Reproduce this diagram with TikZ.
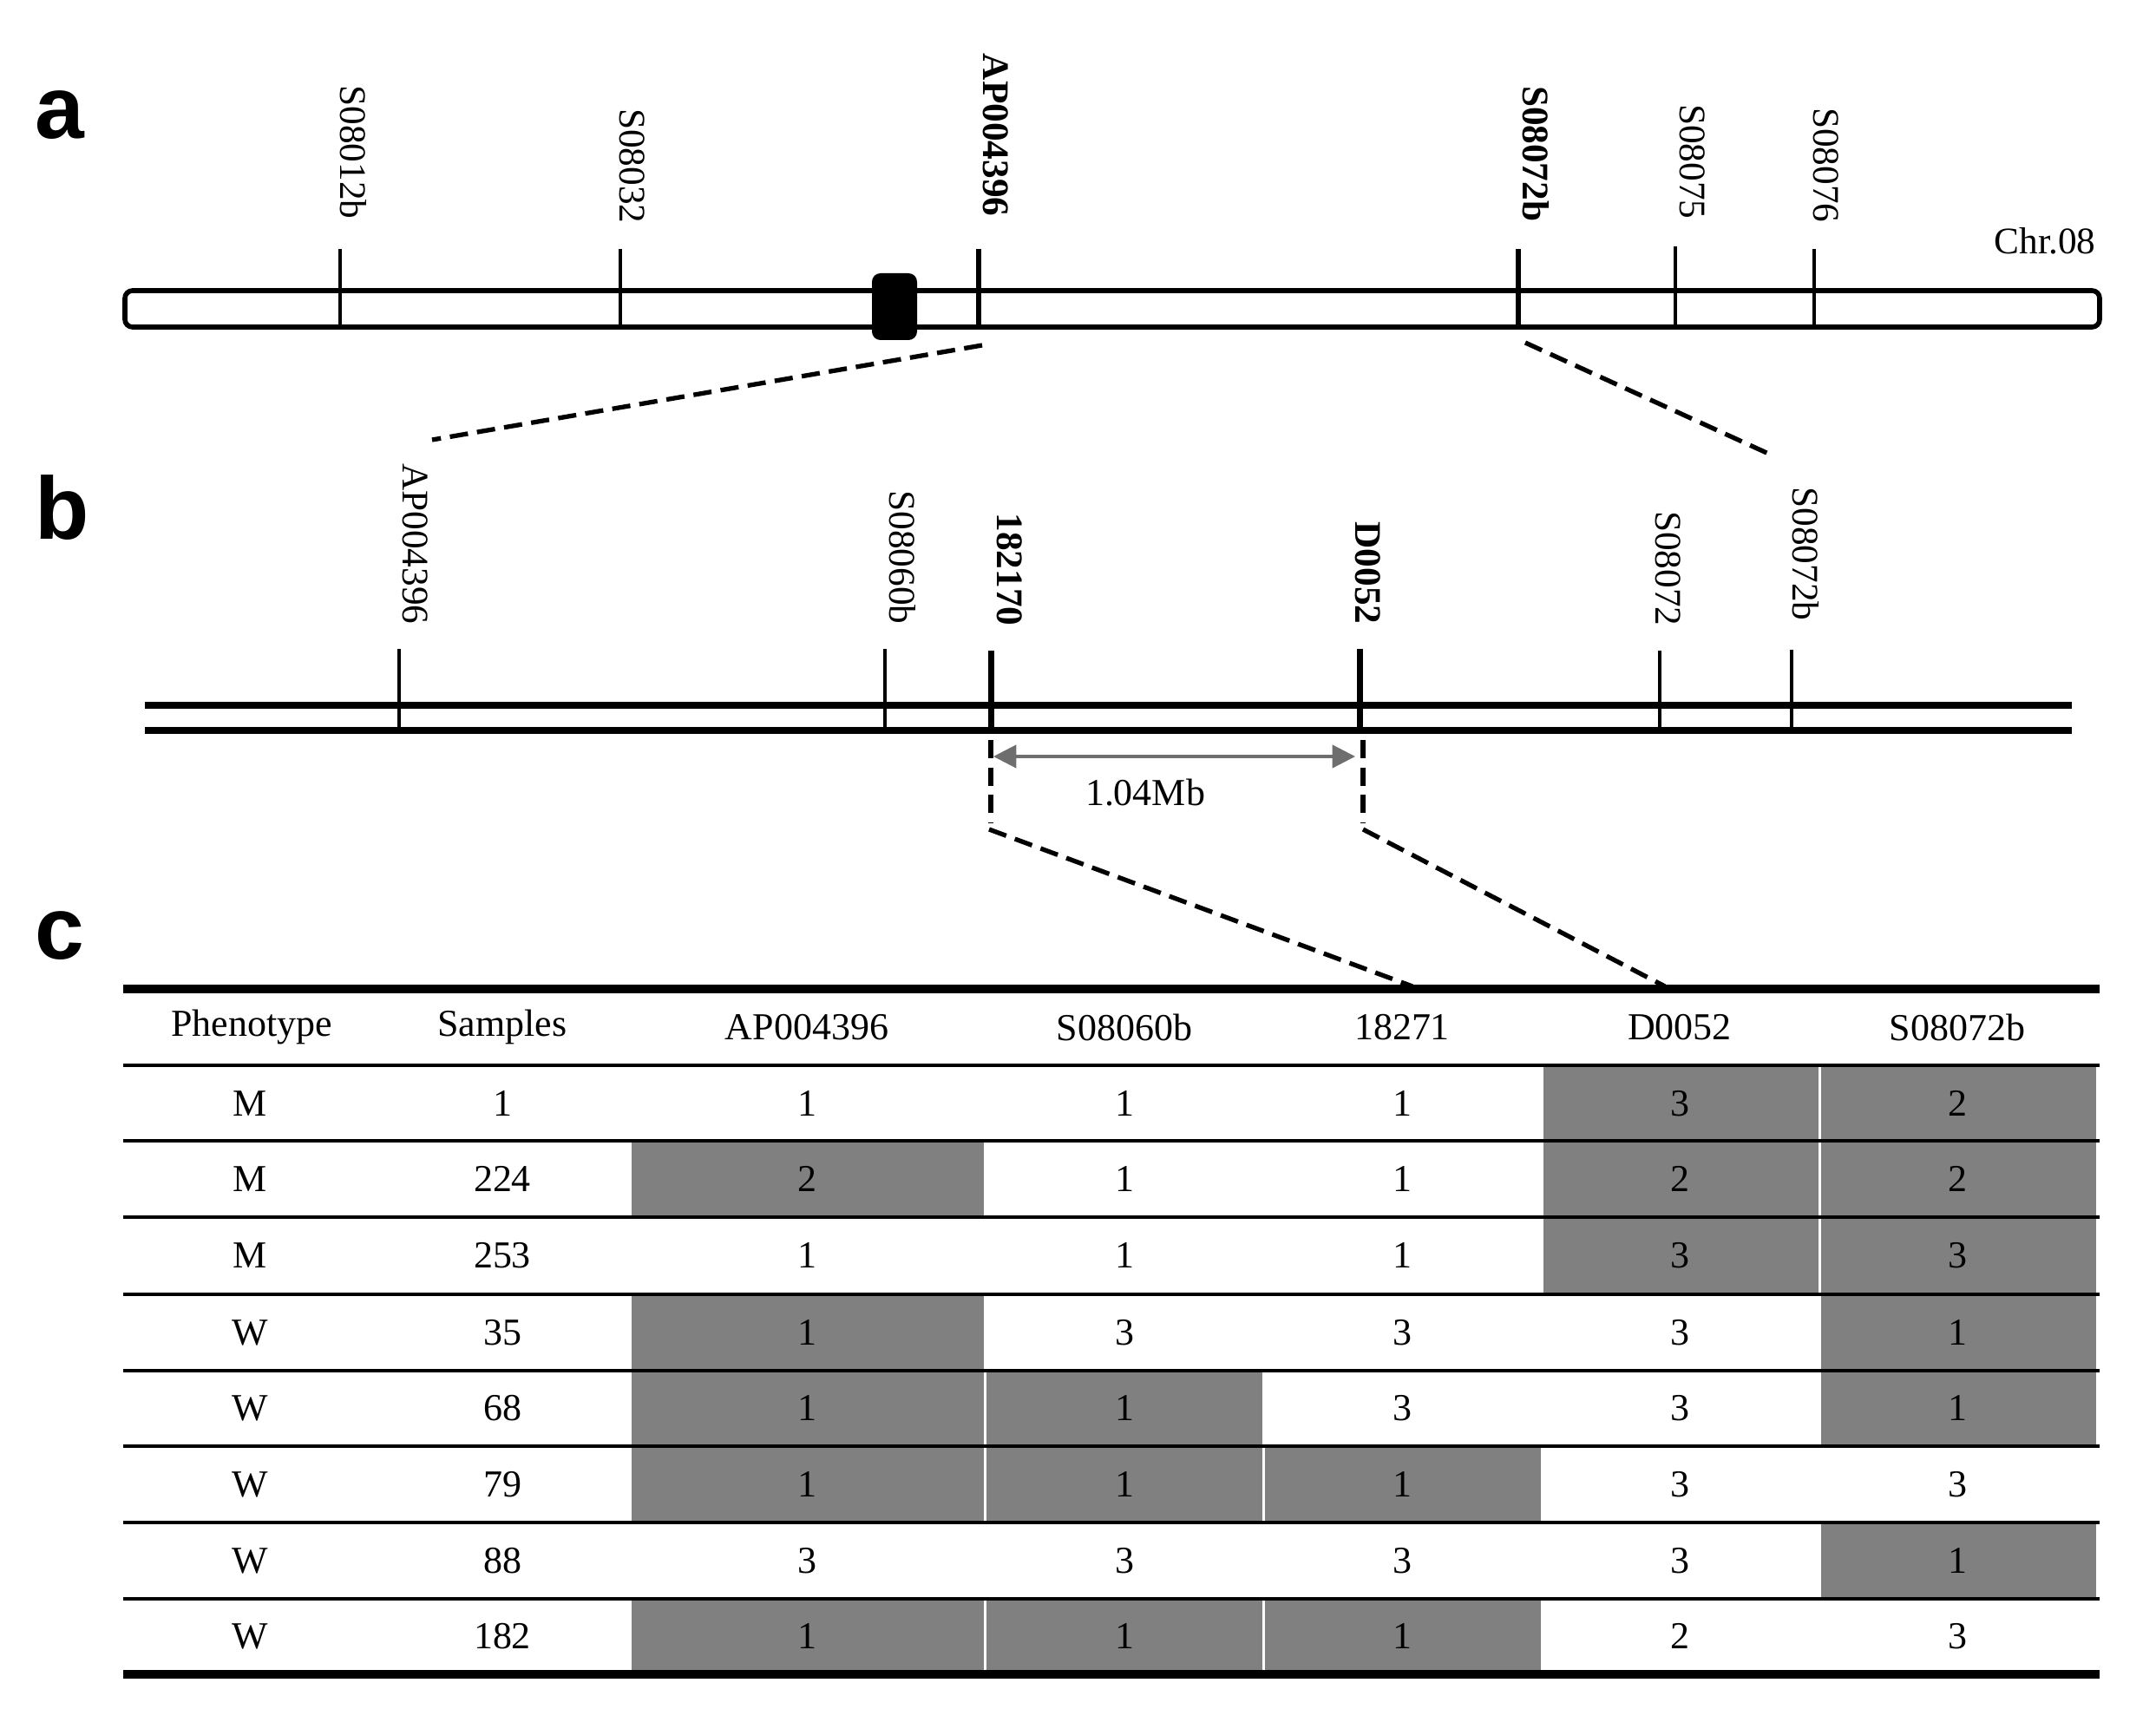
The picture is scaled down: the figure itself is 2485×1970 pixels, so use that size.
\documentclass[tikz,border=0pt]{standalone}
\usepackage{fontspec}
\setmainfont{Liberation Serif}
\newfontfamily\panelfont{Liberation Sans}
\usetikzlibrary{arrows.meta}
\definecolor{cellgray}{HTML}{808080}
\definecolor{arrowgray}{HTML}{6E6E6E}

\begin{document}
\begin{tikzpicture}[x=0.01cm,y=-0.01cm]
\tikzset{marklbl/.style = {rotate=-90,anchor=east,inner sep=0pt,font=\fontsize{12.3}{14}\selectfont}}
\tikzset{boldlbl/.style = {marklbl,font=\fontsize{12.3}{14}\selectfont\bfseries}}
\tikzset{panel/.style = {anchor=base west,inner sep=0pt,font=\panelfont\bfseries\fontsize{29}{30}\selectfont}}
\tikzset{tickA/.style = {line width=1pt}}
\tikzset{tickAbold/.style = {line width=1.6pt}}
\tikzset{tickB/.style = {line width=1.2pt}}
\tikzset{tickBbold/.style = {line width=2pt}}
\tikzset{zoomline/.style = {line width=1.5pt,dash pattern=on 6pt off 3pt}}
\tikzset{dist/.style = {<->,>={Triangle[length=7.5pt,width=7.5pt]},arrowgray,line width=0.9pt}}
\tikzset{cell/.style = {inner sep=0pt,font=\fontsize{12.5}{14}\selectfont}}
\tikzset{geno/.style = {fill=cellgray,draw=none}}
\useasboundingbox (0,0) rectangle (2485,1970);

% a: chromosome 8
\node[panel] (lbl_a) at (40,160) {a};
\draw[line width=1.6pt,rounded corners=2.5pt] (144,335) rectangle (2420,377);
\draw[tickA] (392,287) -- (392,377);
\draw[tickA] (715,287) -- (715,377);
\draw[tickAbold] (1128,287) -- (1128,377);
\draw[tickAbold] (1750,287) -- (1750,377);
\draw[tickA] (1931,284) -- (1931,377);
\draw[tickA] (2091,287) -- (2091,377);
\fill[rounded corners=2.8pt] (1005,315) rectangle (1057,392);
\node[marklbl] (a_s08012b) at (407,253) {S08012b};
\node[marklbl] (a_s08032) at (729,258) {S08032};
\node[boldlbl] (a_ap004396) at (1148,250) {AP004396};
\node[boldlbl] (a_s08072b) at (1770,256) {S08072b};
\node[marklbl] (a_s08075) at (1951,253) {S08075};
\node[marklbl] (a_s08076) at (2105,257) {S08076};
\node[inner sep=0pt,font=\fontsize{12.3}{14}\selectfont] (chr) at (2357,278) {Chr.08};

\coordinate (a_ap_end) at (1132,398);
\coordinate (a_s72_end) at (1758,395);
\coordinate (b_ap_end) at (498,507);
\coordinate (b_s72_end) at (2045,526);
\draw[zoomline] (a_ap_end) -- (b_ap_end);
\draw[zoomline] (a_s72_end) -- (b_s72_end);

% b: fine map
\node[panel] (lbl_b) at (40,621) {b};
\draw[line width=2.4pt] (167,813) -- (2388,813);
\draw[line width=2.4pt] (167,842) -- (2388,842);
\draw[tickB] (460,748) -- (460,842);
\draw[tickB] (1020,748) -- (1020,842);
\draw[tickBbold] (1142,750) -- (1142,844);
\draw[tickBbold] (1567,748) -- (1567,844);
\draw[tickB] (1913,750) -- (1913,842);
\draw[tickB] (2065,749) -- (2065,842);
\node[marklbl] (b_ap004396) at (479,720) {AP004396};
\node[marklbl] (b_s08060b) at (1040,720) {S08060b};
\node[boldlbl] (b_182170) at (1164,722) {182170};
\node[boldlbl] (b_d0052) at (1577,720) {D0052};
\node[marklbl] (b_s08072) at (1923,722) {S08072};
\node[marklbl] (b_s08072b) at (2081,716) {S08072b};

\coordinate (d_l) at (1145,872);
\coordinate (d_r) at (1562,872);
\draw[dist] (d_l) -- (d_r);
\node[cell] (dist_lbl) at (1320,914) {1.04Mb};

\coordinate (b_18_top) at (1142,853);
\coordinate (b_18_bot) at (1142,948);
\coordinate (b_18_turn) at (1140,956);
\coordinate (b_d5_top) at (1571,853);
\coordinate (b_d5_bot) at (1571,948);
\coordinate (b_d5_turn) at (1571,956);
\coordinate (c_18) at (1628,1137);
\coordinate (c_d5) at (1919,1137);
\draw[zoomline] (b_18_top) -- (b_18_bot);
\draw[zoomline] (b_18_turn) -- (c_18);
\draw[zoomline] (b_d5_top) -- (b_d5_bot);
\draw[zoomline] (b_d5_turn) -- (c_d5);

% c: genotypes
\node[panel] (lbl_c) at (40,1105) {c};
\fill[geno] (1778.5,1228) rectangle (2095.5,1315);
\fill[geno] (2098.5,1228) rectangle (2416,1315);
\fill[geno] (727.5,1315) rectangle (1133.5,1403);
\fill[geno] (1778.5,1315) rectangle (2095.5,1403);
\fill[geno] (2098.5,1315) rectangle (2416,1403);
\fill[geno] (1778.5,1403) rectangle (2095.5,1492);
\fill[geno] (2098.5,1403) rectangle (2416,1492);
\fill[geno] (727.5,1492) rectangle (1133.5,1580);
\fill[geno] (2098.5,1492) rectangle (2416,1580);
\fill[geno] (727.5,1580) rectangle (1133.5,1667);
\fill[geno] (1136.5,1580) rectangle (1454.5,1667);
\fill[geno] (2098.5,1580) rectangle (2416,1667);
\fill[geno] (727.5,1667) rectangle (1133.5,1755);
\fill[geno] (1136.5,1667) rectangle (1454.5,1755);
\fill[geno] (1457.5,1667) rectangle (1775.5,1755);
\fill[geno] (2098.5,1755) rectangle (2416,1843);
\fill[geno] (727.5,1843) rectangle (1133.5,1930);
\fill[geno] (1136.5,1843) rectangle (1454.5,1930);
\fill[geno] (1457.5,1843) rectangle (1775.5,1930);

\draw[line width=2.8pt] (142,1140) -- (2420,1140);
\draw[line width=1.1pt] (142,1228) -- (2420,1228);
\draw[line width=1.1pt] (142,1315) -- (2420,1315);
\draw[line width=1.1pt] (142,1403) -- (2420,1403);
\draw[line width=1.1pt] (142,1492) -- (2420,1492);
\draw[line width=1.1pt] (142,1580) -- (2420,1580);
\draw[line width=1.1pt] (142,1667) -- (2420,1667);
\draw[line width=1.1pt] (142,1755) -- (2420,1755);
\draw[line width=1.1pt] (142,1843) -- (2420,1843);
\draw[line width=2.8pt] (142,1930) -- (2420,1930);

\node[cell] (h_1) at (290,1184) {Phenotype};
\node[cell] (h_2) at (579,1184) {Samples};
\node[cell] (h_3) at (930,1184) {AP004396};
\node[cell] (h_4) at (1296,1184) {S08060b};
\node[cell] (h_5) at (1616,1184) {18271};
\node[cell] (h_6) at (1936,1184) {D0052};
\node[cell] (h_7) at (2256,1184) {S08072b};

\node[cell] (r_1_1) at (288,1272) {M};
\node[cell] (r_1_2) at (579,1272) {1};
\node[cell] (r_1_3) at (930,1272) {1};
\node[cell] (r_1_4) at (1296,1272) {1};
\node[cell] (r_1_5) at (1616,1272) {1};
\node[cell] (r_1_6) at (1936,1272) {3};
\node[cell] (r_1_7) at (2256,1272) {2};

\node[cell] (r_2_1) at (288,1359) {M};
\node[cell] (r_2_2) at (579,1359) {224};
\node[cell] (r_2_3) at (930,1359) {2};
\node[cell] (r_2_4) at (1296,1359) {1};
\node[cell] (r_2_5) at (1616,1359) {1};
\node[cell] (r_2_6) at (1936,1359) {2};
\node[cell] (r_2_7) at (2256,1359) {2};

\node[cell] (r_3_1) at (288,1447) {M};
\node[cell] (r_3_2) at (579,1447) {253};
\node[cell] (r_3_3) at (930,1447) {1};
\node[cell] (r_3_4) at (1296,1447) {1};
\node[cell] (r_3_5) at (1616,1447) {1};
\node[cell] (r_3_6) at (1936,1447) {3};
\node[cell] (r_3_7) at (2256,1447) {3};

\node[cell] (r_4_1) at (288,1536) {W};
\node[cell] (r_4_2) at (579,1536) {35};
\node[cell] (r_4_3) at (930,1536) {1};
\node[cell] (r_4_4) at (1296,1536) {3};
\node[cell] (r_4_5) at (1616,1536) {3};
\node[cell] (r_4_6) at (1936,1536) {3};
\node[cell] (r_4_7) at (2256,1536) {1};

\node[cell] (r_5_1) at (288,1623) {W};
\node[cell] (r_5_2) at (579,1623) {68};
\node[cell] (r_5_3) at (930,1623) {1};
\node[cell] (r_5_4) at (1296,1623) {1};
\node[cell] (r_5_5) at (1616,1623) {3};
\node[cell] (r_5_6) at (1936,1623) {3};
\node[cell] (r_5_7) at (2256,1623) {1};

\node[cell] (r_6_1) at (288,1711) {W};
\node[cell] (r_6_2) at (579,1711) {79};
\node[cell] (r_6_3) at (930,1711) {1};
\node[cell] (r_6_4) at (1296,1711) {1};
\node[cell] (r_6_5) at (1616,1711) {1};
\node[cell] (r_6_6) at (1936,1711) {3};
\node[cell] (r_6_7) at (2256,1711) {3};

\node[cell] (r_7_1) at (288,1799) {W};
\node[cell] (r_7_2) at (579,1799) {88};
\node[cell] (r_7_3) at (930,1799) {3};
\node[cell] (r_7_4) at (1296,1799) {3};
\node[cell] (r_7_5) at (1616,1799) {3};
\node[cell] (r_7_6) at (1936,1799) {3};
\node[cell] (r_7_7) at (2256,1799) {1};

\node[cell] (r_8_1) at (288,1886) {W};
\node[cell] (r_8_2) at (579,1886) {182};
\node[cell] (r_8_3) at (930,1886) {1};
\node[cell] (r_8_4) at (1296,1886) {1};
\node[cell] (r_8_5) at (1616,1886) {1};
\node[cell] (r_8_6) at (1936,1886) {2};
\node[cell] (r_8_7) at (2256,1886) {3};
\end{tikzpicture}
\end{document}
